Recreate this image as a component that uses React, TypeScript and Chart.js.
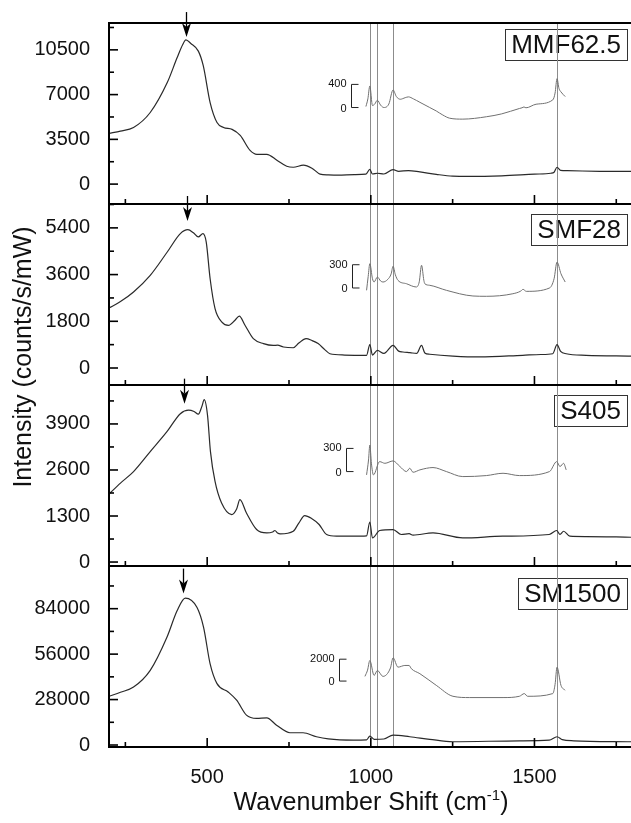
import React, { useEffect, useRef } from 'react';
import { Chart, registerables } from 'chart.js';

Chart.register(...registerables);

// ---------- axis ranges and ticks ----------
const xMin = 200;
const xMax = 1795;
const xMajorTicks = [500, 1000, 1500];
const xMinorTicks = [250, 750, 1250, 1750];
const refLines = [997, 1020, 1068, 1569];

const panelNames = ['MMF62.5', 'SMF28', 'S405', 'SM1500'];
const yMins = [-1556, -655, -112, -1225];
const yMaxs = [12600, 6320, 5000, 110300];
const yMajorTicks = [
  [0, 3500, 7000, 10500],
  [0, 1800, 3600, 5400],
  [0, 1300, 2600, 3900],
  [0, 28000, 56000, 84000],
];
const yMinorTicks = [
  [1750, 5250, 8750, 12250],
  [900, 2700, 4500, 6300],
  [650, 1950, 3250, 4550],
  [14000, 42000, 70000, 98000],
];

// ---------- MMF62.5 ----------
const mmfWave = [200, 235, 275, 326, 378, 408, 425, 435, 450, 473, 488, 509, 530, 550, 576, 601, 631, 652, 682, 713, 743, 763, 794, 820, 845, 870, 900, 950, 985, 997, 1005, 1020, 1040, 1068, 1085, 1115, 1150, 1200, 1250, 1300, 1400, 1500, 1550, 1560, 1569, 1580, 1600, 1700, 1795];
const mmfCounts = [3970, 4150, 4430, 5600, 7940, 9880, 10900, 11280, 11000, 10400, 9260, 6380, 4820, 4430, 4280, 3810, 2640, 2330, 2330, 1870, 1400, 1320, 1480, 1245, 780, 720, 700, 740, 780, 1150, 790, 850, 790, 1140, 1000, 1060, 950, 760, 620, 600, 650, 780, 850, 930, 1320, 1080, 1050, 1000, 990];
const mmfInsetWave = [985, 991, 997, 1005, 1012, 1020, 1030, 1040, 1055, 1068, 1078, 1090, 1105, 1115, 1130, 1150, 1180, 1200, 1220, 1241, 1281, 1353, 1400, 1454, 1462, 1468, 1474, 1505, 1556, 1563, 1569, 1575, 1581, 1594];
const mmfInsetCounts = [17, 150, 373, 34, 60, 126, 40, 0, 60, 304, 190, 143, 170, 184, 150, 90, 0, -60, -130, -185, -201, -160, -110, -17, -5, 10, -5, 57, 132, 250, 499, 330, 270, 189];

// ---------- SMF28 ----------
const smfWave = [200, 235, 275, 326, 378, 418, 441, 458, 473, 487, 497, 509, 524, 545, 565, 585, 598, 616, 641, 672, 702, 715, 733, 763, 780, 802, 820, 839, 860, 875, 920, 987, 997, 1005, 1020, 1040, 1068, 1085, 1098, 1120, 1140, 1155, 1165, 1180, 1251, 1332, 1464, 1520, 1556, 1569, 1580, 1597, 1658, 1795];
const smfCounts = [2310, 2560, 2930, 3570, 4470, 5180, 5330, 5210, 5050, 5180, 4860, 3440, 2290, 1770, 1640, 1840, 2000, 1640, 1130, 940, 870, 880, 810, 780, 960, 1130, 1060, 940, 700, 550, 500, 490, 900, 500, 680, 560, 870, 650, 617, 590, 560, 870, 580, 530, 460, 425, 490, 520, 550, 900, 640, 550, 490, 460];
const smfInsetWave = [987, 992, 997, 1005, 1010, 1020, 1030, 1037, 1052, 1062, 1068, 1075, 1083, 1109, 1139, 1148, 1155, 1162, 1165, 1180, 1231, 1312, 1353, 1434, 1458, 1465, 1475, 1546, 1560, 1569, 1581, 1594];
const smfInsetCounts = [-30, 150, 313, 120, 77, 142, 90, 77, 112, 180, 280, 170, 99, 55, 13, 80, 293, 100, 55, 35, -30, -103, -107, -74, -40, -17, -43, 0, 120, 335, 184, 77];

// ---------- S405 ----------
const s405Wave = [200, 235, 275, 326, 377, 418, 443, 460, 473, 484, 491, 501, 510, 524, 544, 575, 590, 600, 620, 651, 682, 700, 707, 715, 723, 763, 780, 798, 819, 842, 865, 895, 946, 987, 997, 1005, 1027, 1068, 1093, 1117, 1129, 1190, 1281, 1403, 1545, 1568, 1578, 1589, 1608, 1658, 1795];
const s405Counts = [1920, 2230, 2555, 3120, 3680, 4190, 4290, 4250, 4175, 4400, 4585, 4150, 3120, 2275, 1665, 1340, 1500, 1760, 1385, 918, 823, 850, 890, 820, 795, 870, 1100, 1310, 1230, 1060, 777, 730, 730, 740, 1130, 680, 890, 918, 777, 800, 760, 823, 682, 730, 777, 890, 780, 870, 730, 720, 700];
const s405InsetWave = [987, 993, 997, 1002, 1008, 1027, 1043, 1068, 1089, 1109, 1119, 1129, 1150, 1190, 1231, 1281, 1353, 1404, 1454, 1546, 1568, 1578, 1589, 1597];
const s405InsetCounts = [-43, 150, 344, 100, -43, 129, 107, 138, 65, 0, 43, -9, 22, 52, 0, -65, -52, -22, -52, 0, 129, 65, 107, 22];

// ---------- SM1500 ----------
const smWave = [200, 235, 275, 326, 377, 408, 433, 469, 489, 509, 530, 564, 590, 620, 651, 682, 712, 753, 793, 834, 870, 946, 987, 997, 1010, 1040, 1068, 1119, 1180, 1251, 1454, 1545, 1569, 1585, 1620, 1795];
const smCounts = [30000, 32500, 35700, 46000, 66400, 82700, 90500, 84700, 72500, 50000, 37800, 32700, 27600, 18400, 16400, 16700, 12250, 7540, 7540, 5100, 3800, 3060, 3200, 5500, 3500, 3700, 6100, 5100, 3500, 2000, 2600, 3000, 5100, 3300, 2600, 2000];
const smInsetWave = [982, 990, 997, 1010, 1020, 1037, 1060, 1068, 1083, 1104, 1117, 1124, 1150, 1200, 1251, 1302, 1404, 1454, 1469, 1479, 1556, 1563, 1569, 1581, 1594];
const smInsetCounts = [427, 1000, 1880, 518, 973, 427, 1200, 2127, 1273, 1427, 1427, 1127, 673, -391, -1391, -1509, -1509, -1391, -1145, -1391, -1145, -300, 1273, -391, -845];

const mainWaves = [mmfWave, smfWave, s405Wave, smWave];
const mainCounts = [mmfCounts, smfCounts, s405Counts, smCounts];
const insetWaves = [mmfInsetWave, smfInsetWave, s405InsetWave, smInsetWave];
const insetCounts = [mmfInsetCounts, smfInsetCounts, s405InsetCounts, smInsetCounts];

// inset placement in each panel: base level (panel units) and magnification
const insetBase = [5990, 3083, 2555, 39400];
const insetGain = [4.52, 2.99, 2.18, 6.74];
const insetBarValue = [400, 300, 300, 2000];
const insetBarWave = [940, 942, 925, 903];

// arrows marking the ~430 cm-1 band
const arrowWave = [435, 438, 430, 425];
const arrowTip = [11500, 5665, 4473, 93300];

const FONT = "'Liberation Sans', Arial, Helvetica, sans-serif";

function line(ctx: CanvasRenderingContext2D, x1: number, y1: number, x2: number, y2: number) {
  ctx.beginPath();
  ctx.moveTo(x1, y1);
  ctx.lineTo(x2, y2);
  ctx.stroke();
}

const decorPlugin = {
  id: 'decor',
  beforeDatasetsDraw(chart: any) {
    const { ctx, chartArea } = chart;
    const xs = chart.scales.x;
    ctx.save();
    // label boxes
    const boxTopOffset = [6, 10, 10, 12];
    ctx.font = `26px ${FONT}`;
    ctx.textBaseline = 'middle';
    ctx.textAlign = 'left';
    panelNames.forEach((name, i) => {
      const ys = chart.scales['y' + i];
      const w = ctx.measureText(name).width;
      const right = 627;
      const padX = 6;
      const top = ys.top + boxTopOffset[i];
      const h = 31;
      ctx.strokeStyle = '#333';
      ctx.lineWidth = 1;
      ctx.strokeRect(Math.round(right - w - 2 * padX) + 0.5, Math.round(top) + 0.5, Math.round(w + 2 * padX), h);
      ctx.fillStyle = '#111';
      ctx.fillText(name, right - w - padX, top + h / 2 + 1);
    });
    // reference vertical lines
    ctx.strokeStyle = '#8c8c8c';
    ctx.lineWidth = 1;
    refLines.forEach((w) => {
      const px = Math.round(xs.getPixelForValue(w)) + 0.5;
      line(ctx, px, chartArea.top, px, chartArea.bottom);
    });
    ctx.restore();
  },
  afterDatasetsDraw(chart: any) {
    const { ctx, chartArea } = chart;
    const xs = chart.scales.x;
    ctx.save();
    ctx.strokeStyle = '#000';
    ctx.lineCap = 'butt';
    for (let i = 0; i < 4; i++) {
      const ys = chart.scales['y' + i];
      ctx.lineWidth = 1.6;
      yMajorTicks[i].forEach((v) => {
        const py = ys.getPixelForValue(v);
        line(ctx, chartArea.left, py, chartArea.left + 9, py);
      });
      yMinorTicks[i].forEach((v) => {
        if (v < yMins[i] || v > yMaxs[i]) return;
        const py = ys.getPixelForValue(v);
        line(ctx, chartArea.left, py, chartArea.left + 5, py);
      });
      xMajorTicks.forEach((w) => {
        const px = xs.getPixelForValue(w);
        line(ctx, px, ys.bottom, px, ys.bottom - 9);
      });
      xMinorTicks.forEach((w) => {
        const px = xs.getPixelForValue(w);
        line(ctx, px, ys.bottom, px, ys.bottom - 5);
      });
      // panel borders
      ctx.lineWidth = 2;
      if (i === 0) line(ctx, chartArea.left - 1, ys.top, chartArea.right, ys.top);
      line(ctx, chartArea.left - 1, ys.bottom, chartArea.right, ys.bottom);

      // inset scale bracket
      const bx = Math.round(xs.getPixelForValue(insetBarWave[i])) + 0.5;
      const b0 = ys.getPixelForValue(insetBase[i]);
      const b1 = ys.getPixelForValue(insetBase[i] + insetBarValue[i] * insetGain[i]);
      ctx.strokeStyle = '#222';
      ctx.lineWidth = 1;
      ctx.beginPath();
      ctx.moveTo(bx + 7, b1);
      ctx.lineTo(bx, b1);
      ctx.lineTo(bx, b0);
      ctx.lineTo(bx + 7, b0);
      ctx.stroke();
      ctx.fillStyle = '#111';
      ctx.font = `11px ${FONT}`;
      ctx.textAlign = 'right';
      ctx.textBaseline = 'middle';
      ctx.fillText(String(insetBarValue[i]), bx - 5, b1);
      ctx.fillText('0', bx - 5, b0 + 1);
      ctx.strokeStyle = '#000';

      // arrow
      const ax = Math.round(xs.getPixelForValue(arrowWave[i])) + 0.5;
      const ty = ys.getPixelForValue(arrowTip[i]);
      ctx.lineWidth = 1.3;
      line(ctx, ax, ty - 25, ax, ty - 10);
      ctx.fillStyle = '#000';
      ctx.beginPath();
      ctx.moveTo(ax, ty);
      ctx.lineTo(ax - 4.5, ty - 14);
      ctx.lineTo(ax, ty - 10);
      ctx.lineTo(ax + 4.5, ty - 14);
      ctx.closePath();
      ctx.fill();
    }
    // left axis line
    ctx.lineWidth = 2;
    line(ctx, chartArea.left, chartArea.top - 1, chartArea.left, chartArea.bottom + 1);

    // axis titles
    ctx.fillStyle = '#111';
    ctx.save();
    ctx.translate(24, 357);
    ctx.rotate(-Math.PI / 2);
    ctx.font = `25px ${FONT}`;
    ctx.textAlign = 'center';
    ctx.textBaseline = 'middle';
    ctx.fillText('Intensity (counts/s/mW)', 0, 0);
    ctx.restore();

    const main = 'Wavenumber Shift (cm';
    const sup = '-1';
    const close = ')';
    ctx.textAlign = 'left';
    ctx.textBaseline = 'alphabetic';
    ctx.font = `25px ${FONT}`;
    const wMain = ctx.measureText(main).width;
    const wClose = ctx.measureText(close).width;
    ctx.font = `15px ${FONT}`;
    const wSup = ctx.measureText(sup).width;
    const total = wMain + wSup + wClose;
    const cx = 371;
    const base = 810;
    let x0 = cx - total / 2;
    ctx.font = `25px ${FONT}`;
    ctx.fillText(main, x0, base);
    x0 += wMain;
    ctx.font = `15px ${FONT}`;
    ctx.fillText(sup, x0, base - 10);
    x0 += wSup;
    ctx.font = `25px ${FONT}`;
    ctx.fillText(close, x0, base);
    ctx.restore();
  },
};

export default function App() {
  const canvasRef = useRef<HTMLCanvasElement | null>(null);

  useEffect(() => {
    document.body.style.margin = '0';
    const canvas = canvasRef.current;
    if (!canvas) return;

    const datasets: any[] = [];
    for (let i = 0; i < 4; i++) {
      datasets.push({
        label: panelNames[i],
        data: mainWaves[i].map((w, k) => ({ x: w, y: mainCounts[i][k] })),
        yAxisID: 'y' + i,
        xAxisID: 'x',
        borderColor: '#2a2a2a',
        borderWidth: 1.2,
        pointRadius: 0,
        fill: false,
        cubicInterpolationMode: 'monotone',
      });
      datasets.push({
        label: panelNames[i] + ' inset',
        data: insetWaves[i].map((w, k) => ({ x: w, y: insetBase[i] + insetCounts[i][k] * insetGain[i] })),
        yAxisID: 'y' + i,
        xAxisID: 'x',
        borderColor: '#707070',
        borderWidth: 1,
        pointRadius: 0,
        fill: false,
        cubicInterpolationMode: 'monotone',
      });
    }

    const scales: any = {
      x: {
        type: 'linear',
        position: 'bottom',
        min: xMin,
        max: xMax,
        grid: { display: false },
        border: { display: false },
        afterBuildTicks: (s: any) => {
          s.ticks = xMajorTicks.map((v) => ({ value: v }));
        },
        afterFit: (s: any) => {
          s.height = 76;
        },
        ticks: {
          padding: 10,
          color: '#111',
          font: { size: 20, family: FONT },
          maxRotation: 0,
          callback: (v: any) => String(v),
        },
      },
    };
    for (let i = 0; i < 4; i++) {
      scales['y' + i] = {
        type: 'linear',
        position: 'left',
        stack: 'panels',
        stackWeight: 1,
        weight: 4 - i,
        offset: false,
        min: yMins[i],
        max: yMaxs[i],
        grid: { display: false },
        border: { display: false },
        afterBuildTicks: (s: any) => {
          s.ticks = yMajorTicks[i].map((v) => ({ value: v }));
        },
        afterFit: (s: any) => {
          s.width = 109;
        },
        ticks: {
          padding: 11,
          color: '#111',
          font: { size: 20, family: FONT },
          callback: (v: any) => String(v),
        },
      };
    }

    const chart = new Chart(canvas, {
      type: 'line',
      data: { datasets },
      options: {
        responsive: false,
        animation: false,
        devicePixelRatio: 1,
        layout: { padding: { top: 20, left: 0, right: 0, bottom: 0 } },
        plugins: {
          legend: { display: false },
          tooltip: { enabled: false },
          title: { display: false },
        },
        scales,
      },
      plugins: [decorPlugin],
    } as any);

    return () => {
      chart.destroy();
    };
  }, []);

  return (
    <div style={{ position: 'absolute', left: 0, top: 0, width: 631, height: 823, background: '#fff' }}>
      <canvas ref={canvasRef} width={631} height={823} style={{ display: 'block', width: 631, height: 823 }} />
    </div>
  );
}
